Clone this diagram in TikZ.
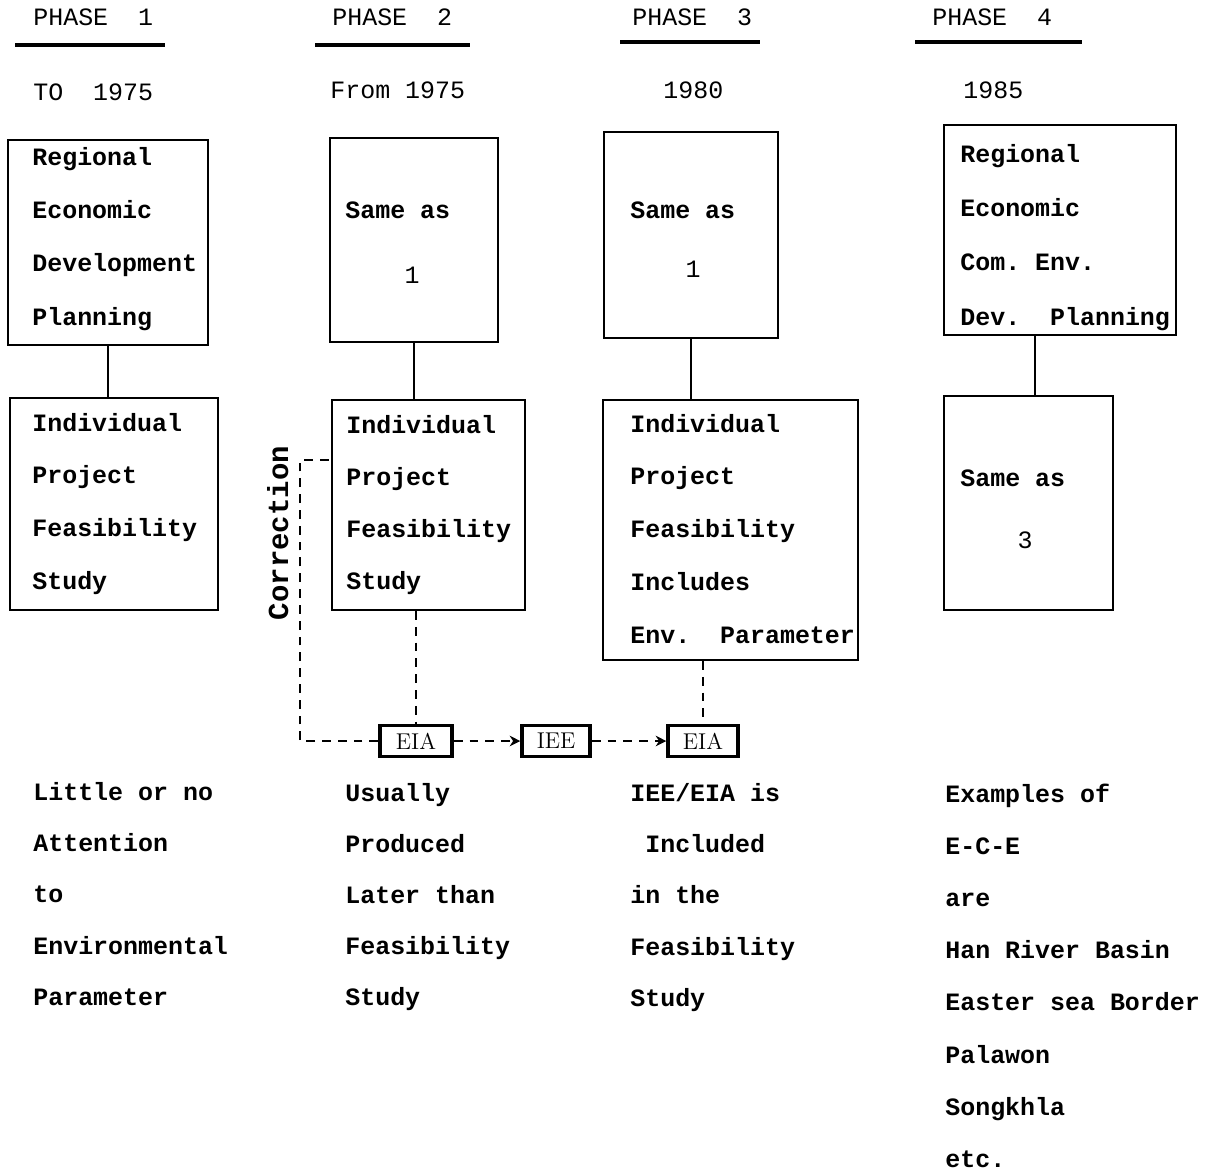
\documentclass[tikz,border=0pt]{standalone}
\usepackage{fontspec}
\setmonofont{Liberation Mono}
\usetikzlibrary{arrows.meta}
\newcommand{\tw}{\ttfamily\fontsize{14.2}{18}\selectfont}

\begin{document}
\begin{tikzpicture}[
      x=0.02cm, y=-0.02cm,
      box/.style={draw,line width=1.1pt,inner sep=0pt},
      txt/.style={anchor=west,inner sep=0pt,font=\tw\bfseries,text height=1.8ex,text depth=.45ex},
      phase/.style={anchor=west,inner sep=0pt,font=\tw,text height=1.8ex,text depth=.45ex},
      uline/.style={line width=2pt},
      link/.style={line width=1.1pt},
      dashlink/.style={line width=1.1pt,dash pattern=on 5pt off 4pt},
      flow/.style={dashlink,-{Stealth[length=6pt,width=6pt]}},
      eiabox/.style={draw,line width=2pt,minimum height=0.62cm,inner sep=0pt,font=\rmfamily\fontsize{13}{15}\selectfont}
    ]
    \useasboundingbox (0,0) rectangle (1226,1171);
    % Draw the phase headings.
    \node[phase] (h1) at (33,20) {PHASE\ \ 1};
    \node[phase] (h2) at (332,20) {PHASE\ \ 2};
    \node[phase] (h3) at (632,20) {PHASE\ \ 3};
    \node[phase] (h4) at (932,20) {PHASE\ \ 4};
    \draw[uline] (15,45) -- (165,45);
    \draw[uline] (315,45) -- (470,45);
    \draw[uline] (620,42) -- (760,42);
    \draw[uline] (915,42) -- (1082,42);
    \node[phase] (y1) at (33,95) {TO\ \ 1975};
    \node[phase] (y2) at (330,93) {From 1975};
    \node[phase] (y3) at (663,93) {1980};
    \node[phase] (y4) at (963,93) {1985};
    % Draw the planning boxes.
    \node[box,minimum width=4cm,minimum height=4.1cm] (b1a) at (108,242.5) {};
    \node[box,minimum width=3.36cm,minimum height=4.08cm] (b2a) at (414,240) {};
    \node[box,minimum width=3.48cm,minimum height=4.12cm] (b3a) at (691,235) {};
    \node[box,minimum width=4.64cm,minimum height=4.2cm] (b4a) at (1060,230) {};
    \foreach \t [count=\i] in {Regional,Economic,Development,Planning}
      \node[txt] (b1a-\i) at (32,{160+53.3*(\i-1)}) {\t};
    \node[txt] (b2a-1) at (345,213) {Same as};
    \node[phase,anchor=center] (b2a-2) at (412,278) {1};
    \node[txt] (b3a-1) at (630,213) {Same as};
    \node[phase,anchor=center] (b3a-2) at (693,272) {1};
    \foreach \t [count=\i] in {Regional,Economic,Com. Env.,Dev.\ \ Planning}
      \node[txt] (b4a-\i) at (960,{157+54.3*(\i-1)}) {\t};
    % Draw the study boxes.
    \node[box,minimum width=4.16cm,minimum height=4.24cm] (b1b) at (114,504) {};
    \node[box,minimum width=3.86cm,minimum height=4.2cm] (b2b) at (428.5,505) {};
    \node[box,minimum width=5.1cm,minimum height=5.2cm] (b3b) at (730.5,530) {};
    \node[box,minimum width=3.38cm,minimum height=4.28cm] (b4b) at (1028.5,503) {};
    \foreach \t [count=\i] in {Individual,Project,Feasibility,Study}
      \node[txt] (b1b-\i) at (32,{426+52.7*(\i-1)}) {\t};
    \foreach \t [count=\i] in {Individual,Project,Feasibility,Study}
      \node[txt] (b2b-\i) at (346,{428+52*(\i-1)}) {\t};
    \foreach \t [count=\i] in {Individual,Project,Feasibility,Includes,Env.\ \ Parameter}
      \node[txt] (b3b-\i) at (630,{427+52.75*(\i-1)}) {\t};
    \node[txt] (b4b-1) at (960,481) {Same as};
    \node[phase,anchor=center] (b4b-2) at (1025,543) {3};
    % Draw the links between the boxes.
    \coordinate (j4) at (1035,0);
    \draw[link] (b1a.south) -- (b1a.south |- b1b.north);
    \draw[link] (b2a.south) -- (b2a.south |- b2b.north);
    \draw[link] (b3a.south) -- (b3a.south |- b3b.north);
    \draw[link] (b4a.south -| j4) -- (b4b.north -| j4);
    % Draw the assessment chain.
    \node[eiabox,minimum width=1.44cm] (e1) at (416,741) {EIA};
    \node[eiabox,minimum width=1.36cm] (ie) at (556,741) {IEE};
    \node[eiabox,minimum width=1.4cm] (e2) at (703,741) {EIA};
    \draw[dashlink] (b2b.south -| e1) -- (e1.north);
    \draw[dashlink] (b3b.south -| e2) -- (e2.north);
    \draw[flow] (e1) -- (ie);
    \draw[flow] (ie) -- (e2);
    \coordinate (c1) at (300,741);
    \coordinate (c2) at (300,460);
    \draw[dashlink] (e1.west) -- (c1) -- (c2) -- (c2 -| b2b.west);
    \node[txt,anchor=center,rotate=90,font=\ttfamily\bfseries\fontsize{16.5}{18}\selectfont] (corr) at (283,533) {Correction};
    % Write the notes under each phase.
    \foreach \t [count=\i] in {Little or no,Attention,to,Environmental,Parameter}
      \node[txt] (n1-\i) at (33,{795+51.3*(\i-1)}) {\t};
    \foreach \t [count=\i] in {Usually,Produced,Later than,Feasibility,Study}
      \node[txt] (n2-\i) at (345,{796+51*(\i-1)}) {\t};
    \foreach \t [count=\i] in {IEE/EIA is,\ Included,in the,Feasibility,Study}
      \node[txt] (n3-\i) at (630,{796+51.3*(\i-1)}) {\t};
    \foreach \t [count=\i] in {Examples of,E-C-E,are,Han River Basin,Easter sea Border,Palawon,Songkhla,etc.}
      \node[txt] (n4-\i) at (945,{797+52.2*(\i-1)}) {\t};
\end{tikzpicture}
\end{document}
